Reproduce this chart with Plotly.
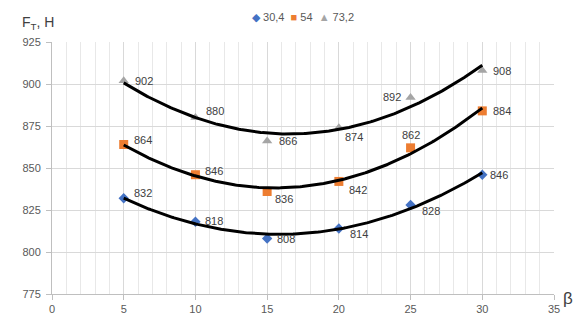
import numpy as np
import plotly.graph_objects as go

# Angle values (β) and tangential force F_T, N, for three speeds
beta = [5, 10, 15, 20, 25, 30]
series_names = ["30,4", "54", "73,2"]
force_304 = [832, 818, 808, 814, 828, 846]
force_54 = [864, 846, 836, 842, 862, 884]
force_732 = [902, 880, 866, 874, 892, 908]

x_ticks = [0, 5, 10, 15, 20, 25, 30, 35]
y_ticks = [775, 800, 825, 850, 875, 900, 925]

# styling
colors = ["#4472C4", "#ED7D31", "#A5A5A5"]
symbols = ["diamond", "square", "triangle-up"]
marker_sizes = [8, 9, 9]
# data label offsets in pixels (dx, dy) and anchor per point
label_style = [
    [(8, 5, "left"), (8, 1, "left"), (8, 0, "left"), (9, -6, "left"), (9, -6, "left"), (6, 0, "left")],
    [(8, 4, "left"), (8, 4, "left"), (6, -7, "left"), (8, -9, "left"), (0, 13, "center"), (9, 0, "left")],
    [(9, 0, "left"), (9, 7, "left"), (10, 0, "left"), (4, -9, "left"), (-8, 0, "right"), (9, 0, "left")],
]

all_series = [force_304, force_54, force_732]

fig = go.Figure()

# markers
for name, ys, c, s, ms in zip(series_names, all_series, colors, symbols, marker_sizes):
    fig.add_trace(go.Scatter(
        x=beta, y=ys, mode="markers", name=name,
        marker=dict(symbol=s, color=c, size=ms, line=dict(width=0)),
        showlegend=False,
    ))

# second-order polynomial trend lines
xs = np.linspace(min(beta), max(beta), 200)
for ys in all_series:
    coef = np.polyfit(beta, ys, 2)
    fig.add_trace(go.Scatter(
        x=xs, y=np.polyval(coef, xs), mode="lines",
        line=dict(color="black", width=3), showlegend=False, hoverinfo="skip",
    ))

annotations = []
for ys, styles in zip(all_series, label_style):
    for xv, yv, (dx, dy, anc) in zip(beta, ys, styles):
        annotations.append(dict(
            x=xv, y=yv, xref="x", yref="y", text=str(yv), showarrow=False,
            xanchor=anc, yanchor="middle", xshift=dx, yshift=dy,
            font=dict(family="Liberation Sans", size=11, color="#404040"),
        ))

# legend drawn as a line of colored glyphs
legend_text = (
    f"<span style='color:{colors[0]}'>◆</span> {series_names[0]}  "
    f"<span style='color:{colors[1]}'>■</span> {series_names[1]}  "
    f"<span style='color:{colors[2]}'>▲</span> {series_names[2]}"
)
annotations.append(dict(
    x=0.5, y=16, xref="paper", yref="paper", text=legend_text, showarrow=False,
    xanchor="center", yanchor="middle",
    font=dict(family="Liberation Sans", size=11, color="#595959"),
))
annotations.append(dict(
    x=20, y=22, xref="paper", yref="paper", text="F<sub>Т</sub>, Н", showarrow=False,
    xanchor="left", yanchor="middle",
    font=dict(family="Liberation Sans", size=14, color="#404040"),
))
annotations.append(dict(
    x=568, y=311, xref="paper", yref="paper", text="β", showarrow=False,
    xanchor="center", yanchor="middle",
    font=dict(family="Liberation Sans", size=17, color="#404040"),
))

# convert pixel-placed paper annotations to paper fractions
W, H = 581, 327
L, R, T, B = 52, 27, 42, 21
pw, ph = W - L - R, H - T - B
for a in annotations[-3:]:
    if a is annotations[-3]:
        a["x"] = 0.5
    else:
        a["x"] = (a["x"] - L) / pw
    a["y"] = (H - B - a["y"]) / ph

fig.update_layout(
    width=W, height=H,
    margin=dict(l=L, r=R, t=T, b=B),
    paper_bgcolor="white", plot_bgcolor="white",
    annotations=annotations,
    font=dict(family="Liberation Sans", size=11, color="#595959"),
)
fig.update_xaxes(
    range=[0, 35], tickvals=x_ticks, ticks="outside", ticklen=5, tickcolor="#bfbfbf",
    showline=True, linecolor="#bfbfbf", linewidth=1,
    showgrid=True, gridcolor="#d9d9d9", gridwidth=1,
    minor=dict(dtick=1, showgrid=True, gridcolor="#e8e8e8", gridwidth=1),
    zeroline=False, fixedrange=True,
)
fig.update_yaxes(
    range=[775, 925], tickvals=y_ticks, ticks="outside", ticklen=5, tickcolor="#bfbfbf",
    showline=True, linecolor="#bfbfbf", linewidth=1,
    showgrid=True, gridcolor="#d9d9d9", gridwidth=1,
    zeroline=False, fixedrange=True, ticklabelstandoff=3,
)

fig.write_html("out.html")
